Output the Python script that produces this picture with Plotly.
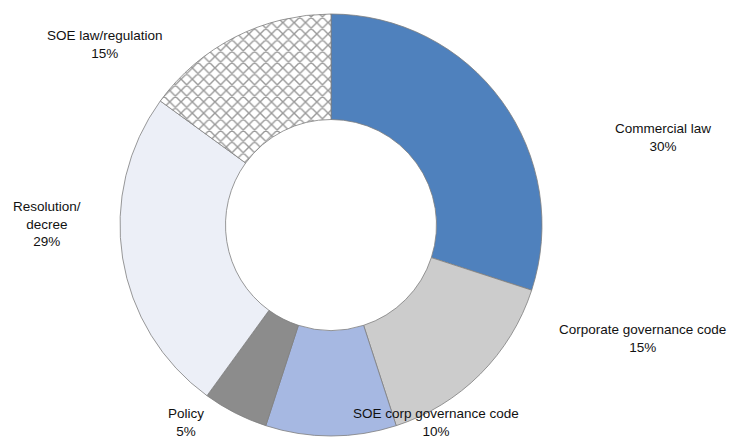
import plotly.graph_objects as go

W, H = 731, 439

categories = ["Commercial law", "Corporate governance code", "SOE corp governance code",
              "Policy", "Resolution/<br>decree", "SOE law/regulation"]
values = [30, 15, 10, 5, 25, 15]
pct_labels = ["30%", "15%", "10%", "5%", "29%", "15%"]
colors = ["#4F81BD", "#CCCCCC", "#A6B8E2", "#8C8C8C", "#ECEFF7", "#FFFFFF"]
patterns = ["", "", "", "", "", "x"]
# label centres in pixels (x, y from top)
label_pos = [(663, 137), (642, 338), (436, 422), (186, 422), (47, 224), (105, 44)]

cx, cy, r = 331, 225, 211

fig = go.Figure(go.Pie(
    labels=categories,
    values=values,
    sort=False,
    direction="clockwise",
    rotation=0,
    hole=0.5,
    textinfo="none",
    hoverinfo="label+value",
    marker=dict(
        colors=colors,
        line=dict(color="#7F7F7F", width=0.8),
        pattern=dict(shape=patterns, fgcolor="#333333", bgcolor="#FFFFFF",
                     size=8, solidity=0.32, fillmode="overlay"),
    ),
    domain=dict(x=[(cx - r) / W, (cx + r) / W], y=[(H - cy - r) / H, (H - cy + r) / H]),
    showlegend=False,
))

annotations = []
for cat, pct, (px, py) in zip(categories, pct_labels, label_pos):
    annotations.append(dict(
        x=px / W, y=1 - py / H, xref="paper", yref="paper",
        text=f"{cat}<br>{pct}", showarrow=False,
        xanchor="center", yanchor="middle", align="center",
        font=dict(family="Liberation Sans, Arial, sans-serif", size=13.5, color="#111111"),
    ))

fig.update_layout(
    width=W, height=H,
    margin=dict(l=0, r=0, t=0, b=0),
    paper_bgcolor="white",
    plot_bgcolor="white",
    annotations=annotations,
)

fig.write_html("out.html")
